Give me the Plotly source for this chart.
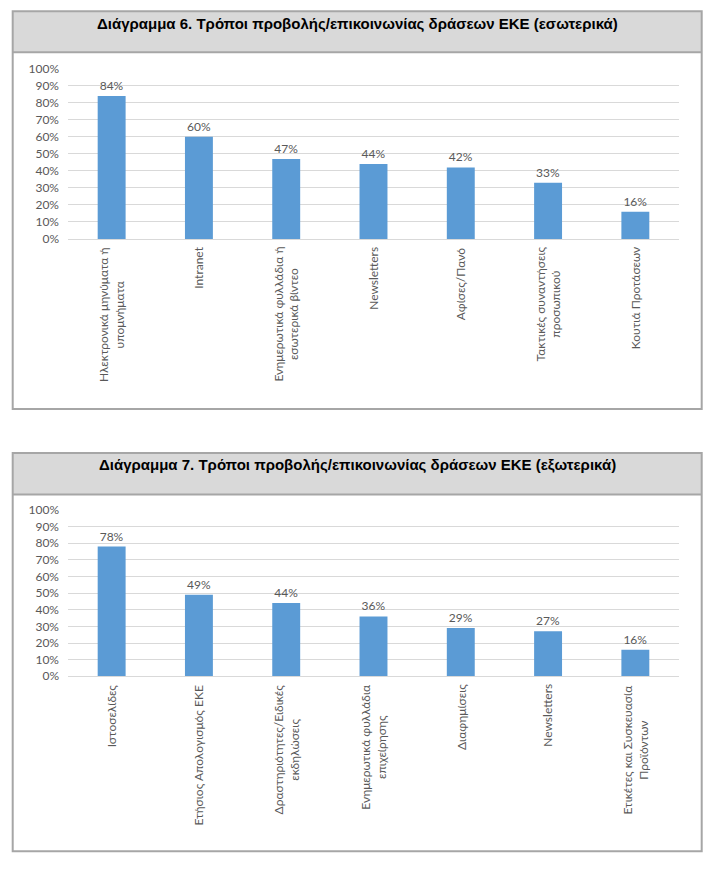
import plotly.graph_objects as go

W, H = 713, 871

title1 = "Διάγραμμα 6. Τρόποι προβολής/επικοινωνίας δράσεων ΕΚΕ (εσωτερικά)"
cats1 = [
    "Ηλεκτρονικά μηνύματα ή<br>υπομνήματα",
    "Intranet",
    "Ενημερωτικά φυλλάδια ή<br>εσωτερικά βίντεο",
    "Newsletters",
    "Αφίσες/Πανό",
    "Τακτικές συναντήσεις<br>προσωπικού",
    "Κουτιά Προτάσεων",
]
vals1 = [84, 60, 47, 44, 42, 33, 16]

title2 = "Διάγραμμα 7. Τρόποι προβολής/επικοινωνίας δράσεων ΕΚΕ (εξωτερικά)"
cats2 = [
    "Ιστοσελίδες",
    "Ετήσιος Απολογισμός ΕΚΕ",
    "Δραστηριότητες/Ειδικές<br>εκδηλώσεις",
    "Ενημερωτικά φυλλάδια<br>επιχείρησης",
    "Διαφημίσεις",
    "Newsletters",
    "Ετικέτες και Συσκευασία<br>Προϊόντων",
]
vals2 = [78, 49, 44, 36, 29, 27, 16]

ytickvals = [0, 10, 20, 30, 40, 50, 60, 70, 80, 90, 100]
yticktext = [f"{v}%" for v in ytickvals]

BAR = "#5b9bd5"
GRAY_TXT = "#595959"
GRID = "#d9d9d9"
FONT = "Lato"


def px_x(p):
    return p / W


def px_y(p):
    return 1 - p / H


fig = go.Figure()

charts = [
    dict(cats=cats1, vals=vals1, title=title1, box=(12.7, 3.3, 701.7, 408), bar_bottom=45,
         title_y=16, plot=(61.7, 235), lab_top=241, xa="x", ya="y"),
    dict(cats=cats2, vals=vals2, title=title2, box=(12.7, 452.7, 701.7, 858), bar_bottom=495,
         title_y=464, plot=(510.7, 680), lab_top=686, xa="x2", ya="y2"),
]

shapes = []
annotations = []
for i, c in enumerate(charts):
    x0, y0, x1, y1 = c["box"]
    shapes.append(dict(type="rect", xref="paper", yref="paper",
                       x0=px_x(x0), x1=px_x(x1), y0=px_y(c["bar_bottom"]), y1=px_y(y0),
                       fillcolor="#d9d9d9", line=dict(width=0), layer="below"))
    shapes.append(dict(type="line", xref="paper", yref="paper",
                       x0=px_x(x0), x1=px_x(x1), y0=px_y(c["bar_bottom"]), y1=px_y(c["bar_bottom"]),
                       line=dict(color="#a6a6a6", width=2)))
    shapes.append(dict(type="rect", xref="paper", yref="paper",
                       x0=px_x(x0), x1=px_x(x1), y0=px_y(y1), y1=px_y(y0),
                       fillcolor="rgba(0,0,0,0)", line=dict(color="#a6a6a6", width=2)))
    annotations.append(dict(text="<b>" + c["title"] + "</b>", xref="paper", yref="paper",
                            x=px_x((x0 + x1) / 2), y=px_y(c["title_y"]), xanchor="center",
                            yanchor="middle", showarrow=False,
                            font=dict(family="Liberation Sans, Arial", size=15, color="#000000")))
    for cat in c["cats"]:
        annotations.append(dict(text=cat, xref=c["xa"], yref="paper", x=cat,
                                y=px_y(c["lab_top"]), xanchor="center", yanchor="top",
                                textangle=-90, align="center", showarrow=False,
                                font=dict(family=FONT, size=12, color=GRAY_TXT)))
    fig.add_trace(go.Bar(
        x=c["cats"], y=c["vals"], xaxis=c["xa"], yaxis=c["ya"],
        marker=dict(color=BAR, line=dict(width=0)),
        text=[f"{v}%" for v in c["vals"]], textposition="outside",
        textfont=dict(family=FONT, size=12, color=GRAY_TXT),
        cliponaxis=False, showlegend=False, hoverinfo="skip",
    ))

xdom = [px_x(68), px_x(679)]
common_x = dict(domain=xdom, showticklabels=False, showgrid=False, showline=True,
                linecolor=GRID, linewidth=1, ticks="", fixedrange=True)
common_y = dict(range=[0, 100], tickvals=ytickvals, ticktext=yticktext, showgrid=True,
                gridcolor=GRID, gridwidth=1, zeroline=False, showline=False, ticks="",
                tickfont=dict(family=FONT, size=12, color=GRAY_TXT), ticklabelstandoff=8,
                fixedrange=True)

fig.update_layout(
    width=W, height=H, margin=dict(l=0, r=0, t=0, b=0),
    paper_bgcolor="white", plot_bgcolor="white",
    bargap=0.68,
    xaxis=dict(**common_x, anchor="y"),
    yaxis=dict(**common_y, anchor="x",
               domain=[px_y(charts[0]["plot"][1]), px_y(charts[0]["plot"][0])]),
    xaxis2=dict(**common_x, anchor="y2"),
    yaxis2=dict(**common_y, anchor="x2",
                domain=[px_y(charts[1]["plot"][1]), px_y(charts[1]["plot"][0])]),
    shapes=shapes, annotations=annotations,
    font=dict(family=FONT),
)

fig.write_html(
    "out.html",
    config={"displayModeBar": False, "staticPlot": True},
    post_script="document.body.style.margin='0';document.body.style.overflow='hidden';",
)
